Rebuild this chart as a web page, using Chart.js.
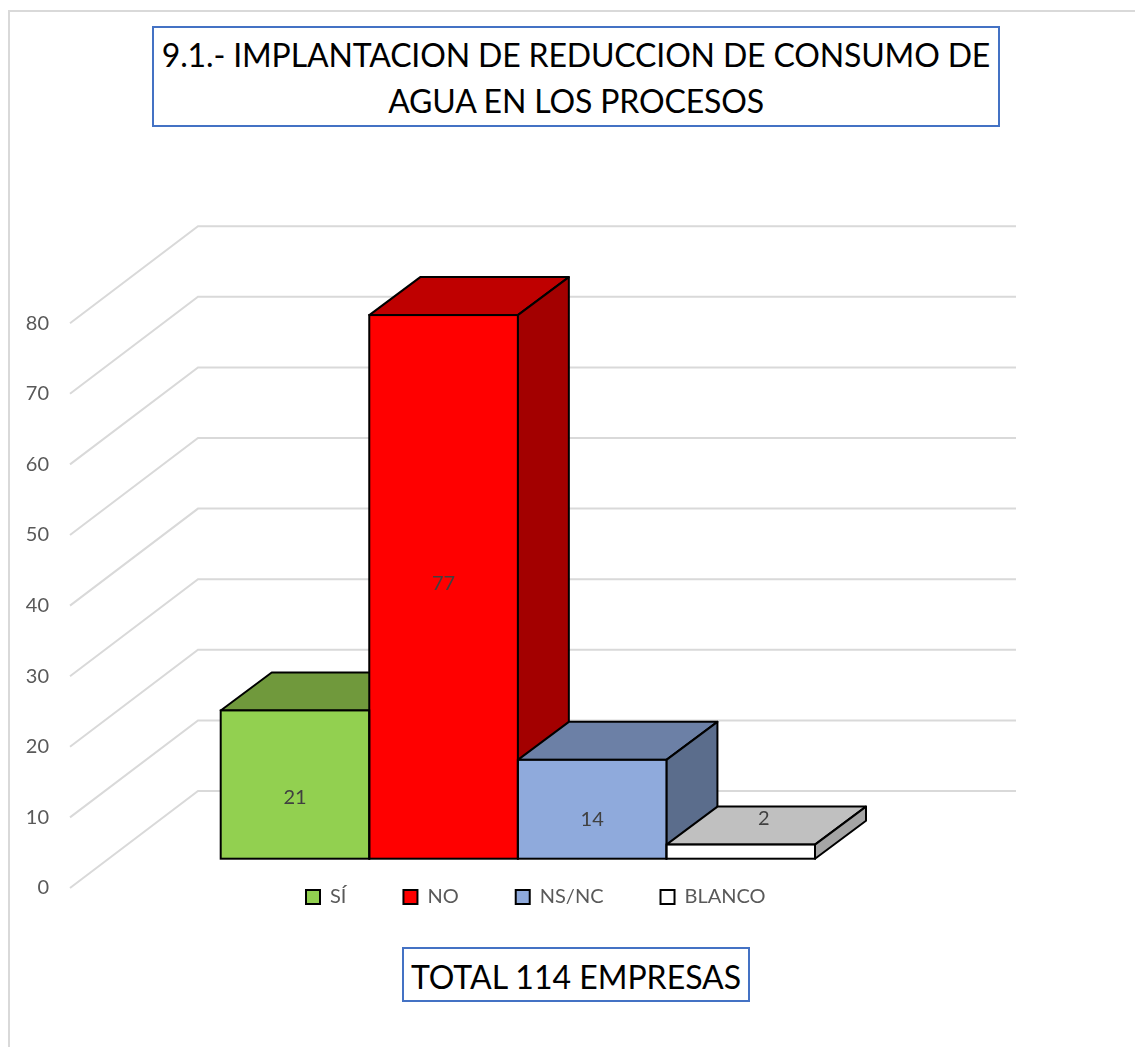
<!DOCTYPE html>
<html lang="es">
<head>
<meta charset="utf-8">
<title>9.1.- Implantacion de reduccion de consumo de agua</title>
<script src="https://cdn.jsdelivr.net/npm/chart.js@4"></script>
<style>
  html, body { margin: 0; padding: 0; background: #fff; overflow: hidden; }
  #wrap { position: relative; width: 1135px; height: 1047px; font-family: Lato, sans-serif; }
  #frame { position: absolute; left: 8px; top: 10px; width: 1135px; height: 1047px; border: 2px solid #d9d9d9; box-sizing: border-box; }
  canvas { position: absolute; left: 0; top: 0; }
  .box { position: absolute; box-sizing: border-box; border: 2px solid #4472c4; background: #fff; color: #000; text-align: center; font-size: 32px; white-space: nowrap; z-index: 2; }
  #title { left: 152px; top: 26px; width: 848px; height: 101px; line-height: 46px; padding-top: 4px; letter-spacing: -0.15px; }
  #total { left: 402px; top: 947px; width: 348px; height: 55px; line-height: 55px; }
</style>
</head>
<body>
<div id="wrap">
  <div id="frame"></div>
  <canvas id="chart" width="1135" height="1047"></canvas>
  <div id="title" class="box">9.1.- IMPLANTACION DE REDUCCION DE CONSUMO DE<br>AGUA EN LOS PROCESOS</div>
  <div id="total" class="box">TOTAL 114 EMPRESAS</div>
</div>
<script>
const categories = ['SÍ', 'NO', 'NS/NC', 'BLANCO'];
const values = [21, 77, 14, 2];
const yTicks = [0, 10, 20, 30, 40, 50, 60, 70, 80];

const frontColors = ['#92d050', '#ff0000', '#8faadc', '#ffffff'];
const topColors = ['#70993c', '#bf0000', '#6c80a6', '#c0c0c0'];
const sideColors = ['#587a30', '#a30000', '#5b6d8c', '#a5a5a5'];

const textColor = '#595959';
const depthX = 51;
const depthY = 38;

function face(ctx, points, fill) {
  ctx.beginPath();
  points.forEach((p, i) => i ? ctx.lineTo(p[0], p[1]) : ctx.moveTo(p[0], p[1]));
  ctx.closePath();
  ctx.fillStyle = fill;
  ctx.fill();
  ctx.stroke();
}

// the 3D look: floor and wall lines, then the top and side of each bar
const wallPlugin = {
  id: 'wall',
  afterLayout(chart) {
    const legend = chart.legend;
    const padding = legend.options.labels.padding;
    legend.left = 306 - padding;
    legend.right = 1135;
    legend.top = 887 - padding;
    legend.bottom = legend.top + legend.height + padding;
  },
  beforeDatasetsDraw(chart) {
    const ctx = chart.ctx;
    const y = chart.scales.y;
    ctx.save();
    ctx.strokeStyle = '#d9d9d9';
    ctx.lineWidth = 2;
    yTicks.forEach(v => {
      const py = y.getPixelForValue(v);
      ctx.beginPath();
      ctx.moveTo(70, py);
      ctx.lineTo(198, py - 97);
      ctx.lineTo(1016, py - 97);
      ctx.stroke();
    });
    ctx.strokeStyle = '#000';
    ctx.lineJoin = 'round';
    chart.getDatasetMeta(0).data.forEach((bar, i) => {
      const l = bar.x - bar.width / 2;
      const r = bar.x + bar.width / 2;
      face(ctx, [[l, bar.y], [l + depthX, bar.y - depthY], [r + depthX, bar.y - depthY], [r, bar.y]], topColors[i]);
      face(ctx, [[r, bar.y], [r + depthX, bar.y - depthY], [r + depthX, bar.base - depthY], [r, bar.base]], sideColors[i]);
    });
    ctx.restore();
  },
  afterDatasetsDraw(chart) {
    const ctx = chart.ctx;
    const labelShift = [[0, 13], [0, -3], [0, 10], [23, -33]];
    ctx.save();
    ctx.strokeStyle = '#000';
    ctx.lineWidth = 2;
    chart.getDatasetMeta(0).data.forEach(bar => {
      ctx.strokeRect(bar.x - bar.width / 2, bar.y, bar.width, bar.base - bar.y);
    });
    ctx.font = '20px Lato, sans-serif';
    ctx.fillStyle = '#404040';
    ctx.textAlign = 'center';
    ctx.textBaseline = 'middle';
    chart.getDatasetMeta(0).data.forEach((bar, i) => {
      ctx.fillText(values[i], bar.x + labelShift[i][0], (bar.y + bar.base) / 2 + labelShift[i][1]);
    });
    ctx.restore();
  }
};

new Chart(document.getElementById('chart'), {
  type: 'bar',
  plugins: [wallPlugin],
  data: {
    labels: categories,
    datasets: [{
      data: values,
      yAxisID: 'yBars',
      backgroundColor: frontColors,
      borderWidth: 0,
      barPercentage: 1,
      categoryPercentage: 1
    }]
  },
  options: {
    responsive: false,
    animation: false,
    layout: { padding: { top: 252.6, right: 320, bottom: 72, left: 0 } },
    plugins: {
      tooltip: { enabled: false },
      legend: {
        position: 'bottom',
        align: 'start',
        onClick: null,
        labels: {
          boxWidth: 14,
          boxHeight: 14,
          padding: 57,
          color: textColor,
          font: { family: 'Lato, sans-serif', size: 20 },
          generateLabels: () => categories.map((name, i) => ({
            text: name,
            fillStyle: frontColors[i],
            strokeStyle: '#000',
            lineWidth: 2,
            fontColor: textColor
          }))
        }
      }
    },
    scales: {
      x: { display: false },
      y: {
        position: 'left',
        min: 0,
        max: 90,
        grid: { display: false, drawTicks: false },
        border: { display: false },
        afterBuildTicks: axis => { axis.ticks = yTicks.map(v => ({ value: v })); },
        // big tick padding pushes the labels left, it should not eat plot height
        afterFit: axis => {
          axis.width = 220.7;
          axis.paddingTop = 0;
          axis.paddingBottom = 0;
        },
        ticks: {
          padding: 171.7,
          color: textColor,
          font: { family: 'Lato, sans-serif', size: 20 }
        }
      },
      // the bars stand on a floor a little in front of the wall axis
      yBars: { display: false, min: -4.15, max: 85.85 }
    }
  }
});
</script>
</body>
</html>
